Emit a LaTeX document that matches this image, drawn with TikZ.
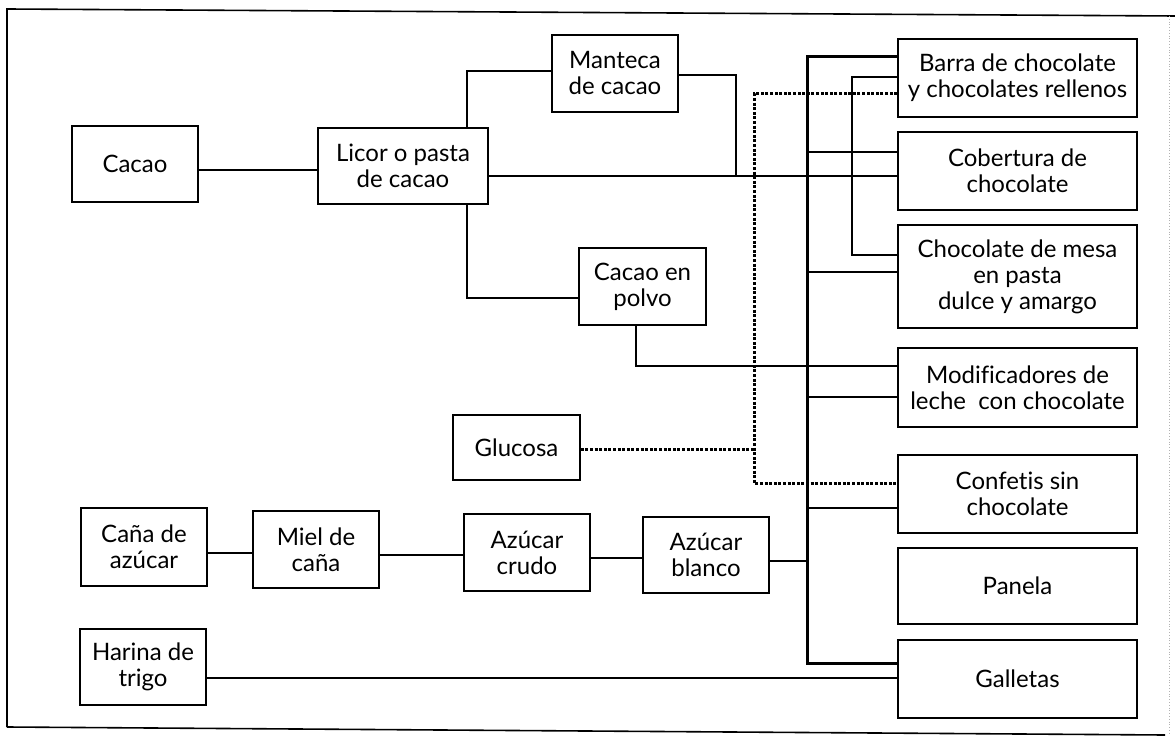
\documentclass[tikz,border=0pt]{standalone}
\usepackage{fontspec}
\setmainfont[Ligatures={NoCommon}]{Lato}
\begin{document}
\begin{tikzpicture}[x=1pt,y=-1pt,
  box/.style={draw, line width=1.6pt, inner sep=0pt, align=center,
    font=\fontsize{24}{26}\selectfont},
  conn/.style={line width=1.5pt},
  bus/.style={line width=3pt},
  branch/.style={line width=2.2pt},
  dots/.style={line width=3pt, dash pattern=on 3pt off 1.6pt},
  frame/.style={line width=1.6pt}]
\useasboundingbox (0,0) rectangle (1175,738);
% frame
\draw[frame] (7,727) -- (7,9) -- (1175,16);
\draw[frame] (7,727) -- (1165,735);
\draw[gray!60, line width=0.8pt, dotted] (1169,16) -- (1169,735);
% left boxes
\node[box, minimum width=126pt, minimum height=76pt] (cacao) at (135,164) {Cacao};
\node[box, minimum width=170pt, minimum height=76pt] (licor) at (403,166) {Licor o pasta\\de cacao};
\node[box, minimum width=126pt, minimum height=77pt] (manteca) at (615,73.5) {Manteca\\de cacao};
\node[box, minimum width=127pt, minimum height=77pt] (polvo) at (642.5,286.5) {Cacao en\\polvo};
\node[box, minimum width=127pt, minimum height=65pt] (glucosa) at (516.5,447.5) {Glucosa};
\node[box, minimum width=126pt, minimum height=78pt] (cana) at (144,547) {Caña de\\azúcar};
\node[box, minimum width=126pt, minimum height=77pt] (miel) at (316,549.5) {Miel de\\caña};
\node[box, minimum width=126pt, minimum height=77pt] (crudo) at (527,552.5) {Azúcar\\crudo};
\node[box, minimum width=126pt, minimum height=76pt] (blanco) at (706,555) {Azúcar\\blanco};
\node[box, minimum width=126pt, minimum height=76pt] (harina) at (143,667) {Harina de\\trigo};
% right boxes
\node[box, minimum width=239pt, minimum height=78pt] (barra) at (1017.5,78) {Barra de chocolate\\y chocolates rellenos};
\node[box, minimum width=239pt, minimum height=78pt] (cobertura) at (1017.5,171) {Cobertura de\\chocolate};
\node[box, minimum width=239pt, minimum height=103pt] (mesa) at (1017.5,276.5) {Chocolate de mesa\\en pasta\\dulce y amargo};
\node[box, minimum width=239pt, minimum height=79pt] (modif) at (1017.5,387.5) {Modificadores de\\leche \ con chocolate};
\node[box, minimum width=239pt, minimum height=78pt] (confetis) at (1017.5,494) {Confetis sin\\chocolate};
\node[box, minimum width=239pt, minimum height=76pt] (panela) at (1017.5,586) {Panela};
\node[box, minimum width=239pt, minimum height=78pt] (galletas) at (1017.5,679) {Galletas};
% named bend points
\coordinate (mtop) at (736,75);
\coordinate (mbot) at (736,176);
\coordinate (bustop) at (807,57);
\coordinate (busbot) at (807,663);
\coordinate (looptop) at (852,77);
\coordinate (loopbot) at (852,255);
\coordinate (dtop) at (754,94);
\coordinate (dbot) at (754,483);
% cacao chain
\draw[conn] (cacao.east |- 0,170) -- (licor.west |- 0,170);
\draw[conn] (licor.north -| 467,0) |- (manteca.west |- 0,71);
\draw[conn] (manteca.east |- mtop) -- (mtop) -- (mbot);
\draw[conn] (licor.east |- 0,176) -- (cobertura.west |- 0,176);
\draw[conn] (licor.south -| 467,0) |- (polvo.west |- 0,298);
\draw[conn] (polvo.south -| 636,0) |- (modif.west |- 0,366);
% bus
\draw[bus, line join=miter] (barra.west |- bustop) -- (bustop) -- (busbot) -- (galletas.west |- busbot);
\draw[branch] (bustop |- 0,152) -- (cobertura.west |- 0,152);
\draw[branch] (bustop |- 0,272) -- (mesa.west |- 0,272);
\draw[branch] (bustop |- 0,397) -- (modif.west |- 0,397);
\draw[branch] (bustop |- 0,508) -- (confetis.west |- 0,508);
\draw[branch] (blanco.east |- 0,561) -- (bustop |- 0,561);
% thin loop
\draw[conn] (barra.west |- looptop) -- (looptop) -- (loopbot) -- (mesa.west |- loopbot);
% sugar chain
\draw[branch] (cana.east |- 0,553) -- (miel.west |- 0,553);
\draw[branch] (miel.east |- 0,555) -- (crudo.west |- 0,555);
\draw[branch] (crudo.east |- 0,558) -- (blanco.west |- 0,558);
% harina
\draw[branch] (harina.east |- 0,678) -- (galletas.west |- 0,678);
% dotted glucosa
\draw[dots] (glucosa.east |- 0,449) -- (dtop |- 0,449);
\draw[dots] (barra.west |- dtop) -- (dtop) -- (dbot) -- (confetis.west |- dbot);
\end{tikzpicture}
\end{document}
